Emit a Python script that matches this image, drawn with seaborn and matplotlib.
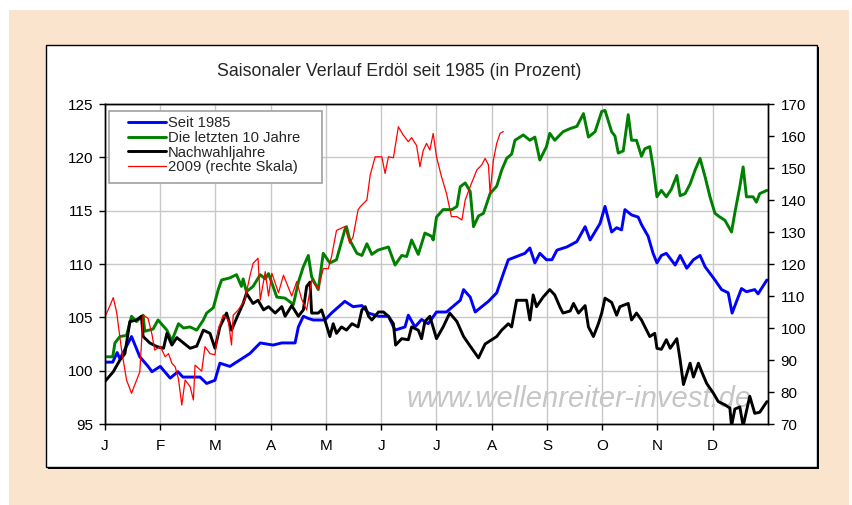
import matplotlib
matplotlib.use("Agg")
import matplotlib.pyplot as plt
import seaborn as sns
from matplotlib.patches import Rectangle

sns.set_style("white")
plt.rcParams['font.family'] = ['Liberation Sans', 'DejaVu Sans']

# x = Monate seit Jahresbeginn (0 = 1. Januar, 12 = Jahresende)
monate_blau = [0.00, 0.14, 0.22, 0.27, 0.36, 0.48, 0.63, 0.78, 0.85, 1.00, 1.18, 1.32, 1.41, 1.72,
               1.84, 1.99, 2.08, 2.26, 2.44, 2.62, 2.81, 3.04, 3.20, 3.44, 3.50, 3.59, 3.68, 3.77,
               3.98, 4.10, 4.34, 4.49, 4.65, 4.77, 4.95, 5.13, 5.25, 5.43, 5.49, 5.61, 5.73, 5.85,
               6.00, 6.18, 6.43, 6.49, 6.61, 6.70, 6.94, 7.09, 7.21, 7.30, 7.45, 7.60, 7.69, 7.78,
               7.87, 7.99, 8.09, 8.18, 8.36, 8.54, 8.69, 8.78, 8.96, 9.05, 9.17, 9.26, 9.35, 9.41,
               9.53, 9.65, 9.71, 9.83, 9.92, 9.99, 10.07, 10.16, 10.32, 10.41, 10.53, 10.65, 10.77,
               10.86, 11.04, 11.16, 11.28, 11.35, 11.52, 11.61, 11.76, 11.82, 11.98]
seit_1985 = [100.8, 100.8, 101.7, 101.1, 102.0, 103.2, 101.3, 100.4, 99.9, 100.4, 99.3, 99.9, 99.4, 99.4,
             98.8, 99.1, 100.7, 100.4, 101.0, 101.6, 102.6, 102.4, 102.6, 102.6, 104.1, 105.1, 104.9, 104.75,
             104.75, 105.4, 106.5, 106.0, 106.1, 105.4, 105.1, 105.1, 103.8, 104.1, 105.2, 104.1, 104.8, 104.4,
             105.5, 105.5, 106.6, 107.6, 106.9, 105.5, 106.5, 107.3, 109.1, 110.4, 110.7, 111.0, 111.5, 110.1,
             111.0, 110.4, 110.4, 111.3, 111.6, 112.1, 113.5, 112.25, 113.8, 115.4, 113.0, 113.4, 113.2, 115.1,
             114.6, 114.4, 113.7, 112.6, 111.0, 110.1, 110.8, 111.0, 109.9, 110.8, 109.6, 110.4, 110.8,
             109.75, 108.5, 107.6, 107.3, 105.4, 107.7, 107.4, 107.6, 107.2, 108.5]

monate_gruen = [0.00, 0.14, 0.18, 0.27, 0.39, 0.48, 0.57, 0.69, 0.72, 0.87, 0.96, 1.12, 1.21, 1.33,
                1.42, 1.54, 1.66, 1.78, 1.84, 1.96, 2.05, 2.11, 2.26, 2.38, 2.47, 2.50, 2.56, 2.68,
                2.81, 2.90, 2.96, 3.11, 3.26, 3.41, 3.50, 3.59, 3.68, 3.74, 3.86, 3.95, 4.07, 4.19,
                4.34, 4.37, 4.43, 4.56, 4.65, 4.74, 4.83, 4.94, 5.13, 5.25, 5.37, 5.46, 5.55, 5.67,
                5.79, 5.91, 5.94, 6.00, 6.12, 6.28, 6.37, 6.43, 6.52, 6.61, 6.67, 6.76, 6.85, 6.97,
                7.09, 7.18, 7.27, 7.36, 7.42, 7.57, 7.69, 7.78, 7.87, 7.99, 8.05, 8.14, 8.29, 8.42,
                8.54, 8.66, 8.75, 8.87, 8.99, 9.05, 9.17, 9.23, 9.29, 9.38, 9.47, 9.53, 9.62, 9.71,
                9.77, 9.86, 9.92, 9.99, 10.07, 10.16, 10.25, 10.35, 10.41, 10.50, 10.59, 10.68, 10.77,
                10.86, 10.95, 11.04, 11.13, 11.22, 11.34, 11.40, 11.49, 11.55, 11.61, 11.73, 11.79,
                11.85, 11.98]
letzte_10_jahre = [101.3, 101.3, 102.6, 103.2, 103.3, 105.1, 104.6, 105.2, 103.7, 103.9, 104.75, 103.8, 102.8, 104.4,
                   104.0, 104.1, 103.8, 104.75, 105.4, 105.9, 107.6, 108.5, 108.7, 109.0, 107.9, 108.6, 107.4, 107.9,
                   109.0, 108.6, 109.1, 106.9, 106.8, 106.2, 108.3, 109.75, 110.8, 108.8, 107.6, 111.0, 110.1, 110.4,
                   113.2, 113.5, 112.25, 111.0, 110.8, 111.9, 110.9, 111.3, 111.6, 109.9, 110.8, 110.7, 112.25, 110.9,
                   112.9, 112.6, 112.25, 114.4, 115.1, 115.1, 115.4, 117.25, 117.6, 116.8, 113.5, 114.5, 114.75, 116.6,
                   117.3, 118.8, 119.9, 120.3, 121.6, 122.1, 121.6, 121.9, 119.75, 121.0, 122.25, 121.6, 122.4, 122.7,
                   122.9, 124.1, 121.9, 122.4, 124.3, 124.4, 122.4, 122.0, 120.4, 120.6, 124.0, 121.6, 121.6, 120.1,
                   120.8, 121.0, 119.1, 116.3, 116.9, 116.3, 117.0, 118.3, 116.4, 116.6, 117.5, 118.8, 119.9,
                   118.2, 116.3, 114.75, 114.4, 114.1, 113.0, 114.8, 117.25, 119.1, 116.3, 116.3, 115.8,
                   116.6, 116.9]

monate_schwarz = [0.00, 0.15, 0.27, 0.36, 0.45, 0.57, 0.66, 0.69, 0.81, 0.94, 1.06, 1.12, 1.21, 1.30,
                  1.42, 1.54, 1.66, 1.78, 1.90, 1.99, 2.08, 2.20, 2.29, 2.38, 2.50, 2.56, 2.68, 2.77,
                  2.87, 2.96, 3.08, 3.20, 3.26, 3.38, 3.50, 3.59, 3.65, 3.71, 3.74, 3.86, 3.92, 3.98,
                  4.07, 4.13, 4.19, 4.28, 4.37, 4.47, 4.58, 4.65, 4.71, 4.77, 4.83, 4.95, 5.04, 5.13,
                  5.22, 5.26, 5.37, 5.49, 5.55, 5.67, 5.73, 5.79, 5.88, 6.00, 6.12, 6.24, 6.37, 6.49,
                  6.61, 6.76, 6.88, 7.00, 7.09, 7.18, 7.30, 7.36, 7.45, 7.63, 7.69, 7.75, 7.81, 7.93,
                  8.05, 8.14, 8.24, 8.29, 8.42, 8.48, 8.57, 8.69, 8.75, 8.84, 8.93, 8.99, 9.05, 9.17,
                  9.26, 9.32, 9.47, 9.53, 9.62, 9.71, 9.86, 9.95, 9.99, 10.07, 10.16, 10.23, 10.35,
                  10.41, 10.47, 10.59, 10.65, 10.74, 10.80, 10.89, 11.01, 11.10, 11.22, 11.31, 11.34,
                  11.40, 11.49, 11.55, 11.67, 11.76, 11.85, 11.98]
nachwahljahre = [99.0, 99.9, 101.0, 101.6, 104.6, 104.75, 105.1, 103.2, 102.6, 102.25, 102.1, 103.5, 102.4, 103.1,
                 102.6, 102.1, 102.3, 103.8, 103.5, 102.1, 104.1, 105.4, 103.8, 104.9, 106.3, 107.25, 106.3, 106.6,
                 105.7, 106.0, 105.4, 106.0, 105.1, 106.1, 105.1, 105.7, 107.9, 108.3, 105.4, 105.4, 105.7, 104.75,
                 103.2, 104.4, 103.5, 104.1, 103.8, 104.4, 104.1, 105.7, 106.0, 105.1, 104.75, 105.5, 105.5, 105.1,
                 104.4, 102.4, 103.0, 102.9, 104.1, 103.8, 103.0, 104.6, 105.1, 103.0, 104.1, 105.4, 104.6, 103.2,
                 102.3, 101.2, 102.5, 102.9, 103.2, 103.8, 104.4, 104.1, 106.6, 106.6, 104.75, 107.1, 106.0, 106.9,
                 107.6, 107.1, 105.9, 105.4, 105.6, 106.3, 105.4, 106.1, 104.1, 103.2, 104.4, 105.4, 106.8, 106.4,
                 105.2, 106.0, 106.3, 104.75, 105.4, 104.75, 103.2, 103.5, 102.1, 102.0, 102.9, 102.1, 103.0,
                 101.0, 98.7, 100.7, 99.4, 100.7, 99.9, 98.8, 97.9, 97.1, 96.8, 96.5, 94.8,
                 96.4, 96.6, 94.8, 97.6, 96.0, 96.1, 97.1]

# 2009 auf der rechten Skala
monate_rot = [0.00, 0.09, 0.15, 0.21, 0.30, 0.39, 0.48, 0.63, 0.69, 0.78, 0.85, 0.90, 1.00, 1.09,
              1.15, 1.21, 1.27, 1.33, 1.39, 1.45, 1.54, 1.60, 1.63, 1.75, 1.81, 1.90, 1.99, 2.05,
              2.14, 2.23, 2.29, 2.32, 2.41, 2.53, 2.62, 2.68, 2.77, 2.81, 2.90, 2.96, 3.02, 3.14,
              3.23, 3.38, 3.47, 3.56, 3.65, 3.74, 3.86, 3.95, 4.04, 4.10, 4.19, 4.34, 4.43, 4.49,
              4.58, 4.62, 4.74, 4.80, 4.89, 5.01, 5.07, 5.13, 5.22, 5.31, 5.39, 5.49, 5.55, 5.64,
              5.70, 5.76, 5.82, 5.88, 5.94, 6.00, 6.09, 6.18, 6.27, 6.37, 6.46, 6.52, 6.61, 6.73,
              6.82, 6.88, 6.94, 6.97, 7.03, 7.09, 7.15, 7.21]
jahr_2009 = [103.5, 107.0, 109.5, 105.0, 93.1, 83.75, 79.6, 86.3, 104.1, 103.0, 98.0, 93.1, 94.2, 91.0,
             92.0, 89.0, 87.9, 84.0, 75.9, 83.75, 81.7, 77.5, 88.4, 86.5, 94.2, 92.0, 91.6, 99.4,
             104.1, 102.5, 94.7, 104.0, 105.6, 108.75, 116.0, 120.2, 121.8, 108.75, 117.6, 110.0, 117.1, 111.0,
             116.5, 110.0, 114.5, 109.0, 105.6, 115.0, 112.0, 118.6, 118.5, 122.3, 130.5, 131.7, 126.5, 128.5,
             136.9, 137.9, 140.0, 147.8, 153.5, 153.5, 148.3, 153.5, 153.2, 162.9, 160.5, 158.2, 159.5, 157.0,
             150.4, 155.5, 157.7, 155.6, 160.8, 153.5, 147.3, 142.1, 134.8, 134.8, 133.75, 140.0, 144.2, 149.4,
             151.0, 153.0, 151.0, 142.1, 152.5, 157.7, 160.8, 161.4]

monats_labels = ['J', 'F', 'M', 'A', 'M', 'J', 'J', 'A', 'S', 'O', 'N', 'D']
links_ticks = [95, 100, 105, 110, 115, 120, 125]
rechts_ticks = [70, 80, 90, 100, 110, 120, 130, 140, 150, 160, 170]

W, H = 853, 505
fig = plt.figure(figsize=(W / 100, H / 100), dpi=100)
fig.patch.set_facecolor('white')

# Rahmen: pfirsichfarbener Hintergrund, weisses Feld mit Schatten
fig.add_artist(Rectangle((9 / W, 0), 840 / W, 495 / H, transform=fig.transFigure,
                         facecolor='#fbe4cd', edgecolor='none', zorder=-10))
fig.add_artist(Rectangle((48 / W, 1 - 469 / H), 771 / W, 422 / H, transform=fig.transFigure,
                         facecolor='black', edgecolor='none', zorder=-9))
fig.add_artist(Rectangle((46 / W, 1 - 467 / H), 771 / W, 422 / H, transform=fig.transFigure,
                         facecolor='white', edgecolor='black', lw=1.0, zorder=-8))

ax = fig.add_axes([105 / W, 1 - 424 / H, 663 / W, 320 / H])
ax.set_facecolor('white')
ax2 = ax.twinx()

sns.lineplot(x=monate_blau, y=seit_1985, ax=ax, color='#0000ff', lw=2.1,
             estimator=None, sort=False, label='Seit 1985', zorder=3)
sns.lineplot(x=monate_gruen, y=letzte_10_jahre, ax=ax, color='#008000', lw=2.1,
             estimator=None, sort=False, label='Die letzten 10 Jahre', zorder=3)
sns.lineplot(x=monate_schwarz, y=nachwahljahre, ax=ax, color='black', lw=2.1,
             estimator=None, sort=False, label='Nachwahljahre', zorder=3)
sns.lineplot(x=monate_rot, y=jahr_2009, ax=ax2, color='#ff0000', lw=0.9,
             estimator=None, sort=False, label='2009 (rechte Skala)')

ax.set_xlim(0, 12)
ax.set_ylim(95, 125)
ax2.set_ylim(70, 170)
ax.set_xticks(range(12))
ax.set_xticklabels(monats_labels)
ax.set_yticks(links_ticks)
ax.set_yticklabels([str(t) for t in links_ticks])
ax2.set_yticks(rechts_ticks)
ax2.set_yticklabels([str(t) for t in rechts_ticks])
ax.set_xlabel('')
ax.set_ylabel('')
ax2.set_ylabel('')

ax.grid(True, color='#c8c8c8', lw=1.0, zorder=0)
ax.set_axisbelow(True)
ax2.grid(False)

ax.tick_params(axis='x', bottom=True, direction='out', length=4, width=1, labelsize=11, pad=7, colors='black')
ax.tick_params(axis='y', left=True, direction='out', length=4, width=1, labelsize=11, pad=4.5, colors='black')
ax2.tick_params(axis='y', right=True, direction='out', length=4, width=1, labelsize=11, pad=5, colors='black')

for a in (ax, ax2):
    for s in a.spines.values():
        s.set_color('black')
        s.set_linewidth(1.0)

# Wasserzeichen
ax.text(0.455, 0.053, 'www.wellenreiter-invest.de', transform=ax.transAxes,
        ha='left', va='baseline', fontsize=21, style='italic', color='#c6c6c6', zorder=1)

# Legende mit eigenem Rahmen
h1, l1 = ax.get_legend_handles_labels()
h2, l2 = ax2.get_legend_handles_labels()
if ax2.get_legend() is not None:
    ax2.get_legend().remove()
ax2.add_patch(Rectangle((0.006, 0.753), 0.321, 0.225, transform=ax2.transAxes,
                        facecolor='white', edgecolor='#a0a0a0', lw=1.2, zorder=4))
leg = ax2.legend(h1 + h2, l1 + l2, loc='upper left', bbox_to_anchor=(0.034, 0.962),
                 frameon=False, fontsize=10.6, handlelength=2.6, handletextpad=0.15,
                 labelspacing=0.05, borderpad=0, borderaxespad=0)
leg.set_zorder(5)
if ax.get_legend() is not None:
    ax.get_legend().remove()

fig.text(399 / W, 1 - 72 / H, 'Saisonaler Verlauf Erdöl seit 1985 (in Prozent)',
         ha='center', va='center', fontsize=12.8)

fig.savefig('out.png', dpi=100)
